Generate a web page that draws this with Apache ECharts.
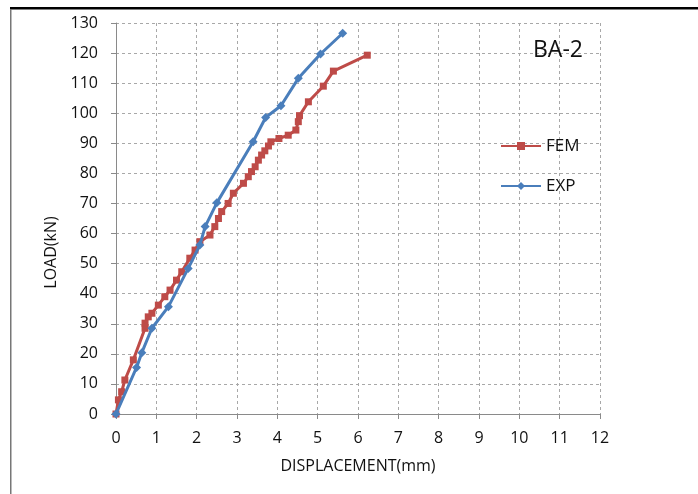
<!DOCTYPE html>
<html><head><meta charset="utf-8">
<script src="https://cdn.jsdelivr.net/npm/echarts@6/dist/echarts.min.js"></script>
<style>html,body{margin:0;padding:0;background:#fff}#c{width:698px;height:494px}</style>
</head><body><div id="c"></div>
<script>
const femX = [0,0.06,0.14,0.22,0.43,0.72,0.72,0.80,0.89,1.05,1.21,1.34,1.50,1.63,1.83,1.96,2.08,2.33,2.45,2.54,2.62,2.78,2.91,3.16,3.28,3.36,3.45,3.53,3.61,3.69,3.78,3.84,4.04,4.27,4.46,4.52,4.55,4.77,5.14,5.39,6.23];
const femY = [0,4.7,7.4,11.3,18.0,28.5,30.2,32.3,33.5,36.2,39.0,41.2,44.5,47.3,51.8,54.5,57.3,59.5,62.3,65.0,67.3,70.0,73.4,76.7,78.9,80.6,82.2,84.4,86.1,87.5,89.1,90.5,91.6,92.7,94.4,97.2,99.2,103.8,109.0,114.0,119.3];
const expX = [0,0.51,0.64,0.89,1.30,1.79,2.08,2.21,2.50,3.40,3.71,4.09,4.52,5.07,5.62];
const expY = [0,15.5,20.4,28.5,35.7,48.4,56.2,62.3,70.2,90.5,98.6,102.5,111.6,119.7,126.6];
const xTicks = [0,12,1];
const yTicks = [0,130,10];
const femData = femX.map((x,i)=>[x,femY[i]]);
const expData = expX.map((x,i)=>[x,expY[i]]);
const font = '"Open Sans", sans-serif';
const chart = echarts.init(document.getElementById('c'));
chart.setOption({
  animation:false,
  backgroundColor:'#fff',
  grid:{left:116,right:98,top:23,bottom:80,containLabel:false},
  title:{text:'BA-2',left:528,top:34,textStyle:{fontFamily:font,fontSize:23,fontWeight:'normal',color:'#111'}},
  legend:{orient:'vertical',left:495,top:131,itemWidth:40,itemHeight:10,itemGap:20,
    textStyle:{fontFamily:font,fontSize:17,lineHeight:20,color:'#111'},
    data:['FEM','EXP']},
  xAxis:{type:'value',min:xTicks[0],max:xTicks[1],interval:xTicks[2],
    name:'DISPLACEMENT(mm)',nameLocation:'middle',nameGap:44,
    nameTextStyle:{fontFamily:font,fontSize:16,color:'#111'},
    axisLine:{lineStyle:{color:'#8a8a8a',width:1}},
    axisTick:{show:true,inside:false,length:5,lineStyle:{color:'#8a8a8a'}},
    axisLabel:{fontFamily:font,fontSize:16,color:'#111',margin:16},
    splitLine:{show:true,lineStyle:{color:'#a8a8a8',type:[3,3],width:1}}},
  yAxis:{type:'value',min:yTicks[0],max:yTicks[1],interval:yTicks[2],
    name:'LOAD(kN)',nameLocation:'middle',nameGap:48,nameRotate:90,
    nameTextStyle:{fontFamily:font,fontSize:16,color:'#111',padding:[0,68,0,0]},
    axisLine:{show:true,lineStyle:{color:'#8a8a8a',width:1}},
    axisTick:{show:true,inside:false,length:5,lineStyle:{color:'#8a8a8a'}},
    axisLabel:{fontFamily:font,fontSize:16,color:'#111',margin:18},
    splitLine:{show:true,lineStyle:{color:'#a8a8a8',type:[3,3],width:1}}},
  series:[
    {name:'FEM',type:'line',data:femData,symbol:'rect',symbolSize:7,
     lineStyle:{color:'#BE4B48',width:3},itemStyle:{color:'#BE4B48'},z:2},
    {name:'EXP',type:'line',data:expData,symbol:'diamond',symbolSize:9,
     lineStyle:{color:'#4A7EBB',width:3},itemStyle:{color:'#4A7EBB'},z:3}
  ],
  graphic:[
    {type:'rect',shape:{x:10,y:7,width:688,height:2.5},style:{fill:'#000'},silent:true},
    {type:'rect',shape:{x:10,y:9,width:1.5,height:485},style:{fill:'#777'},silent:true}
  ]
});
</script></body></html>
